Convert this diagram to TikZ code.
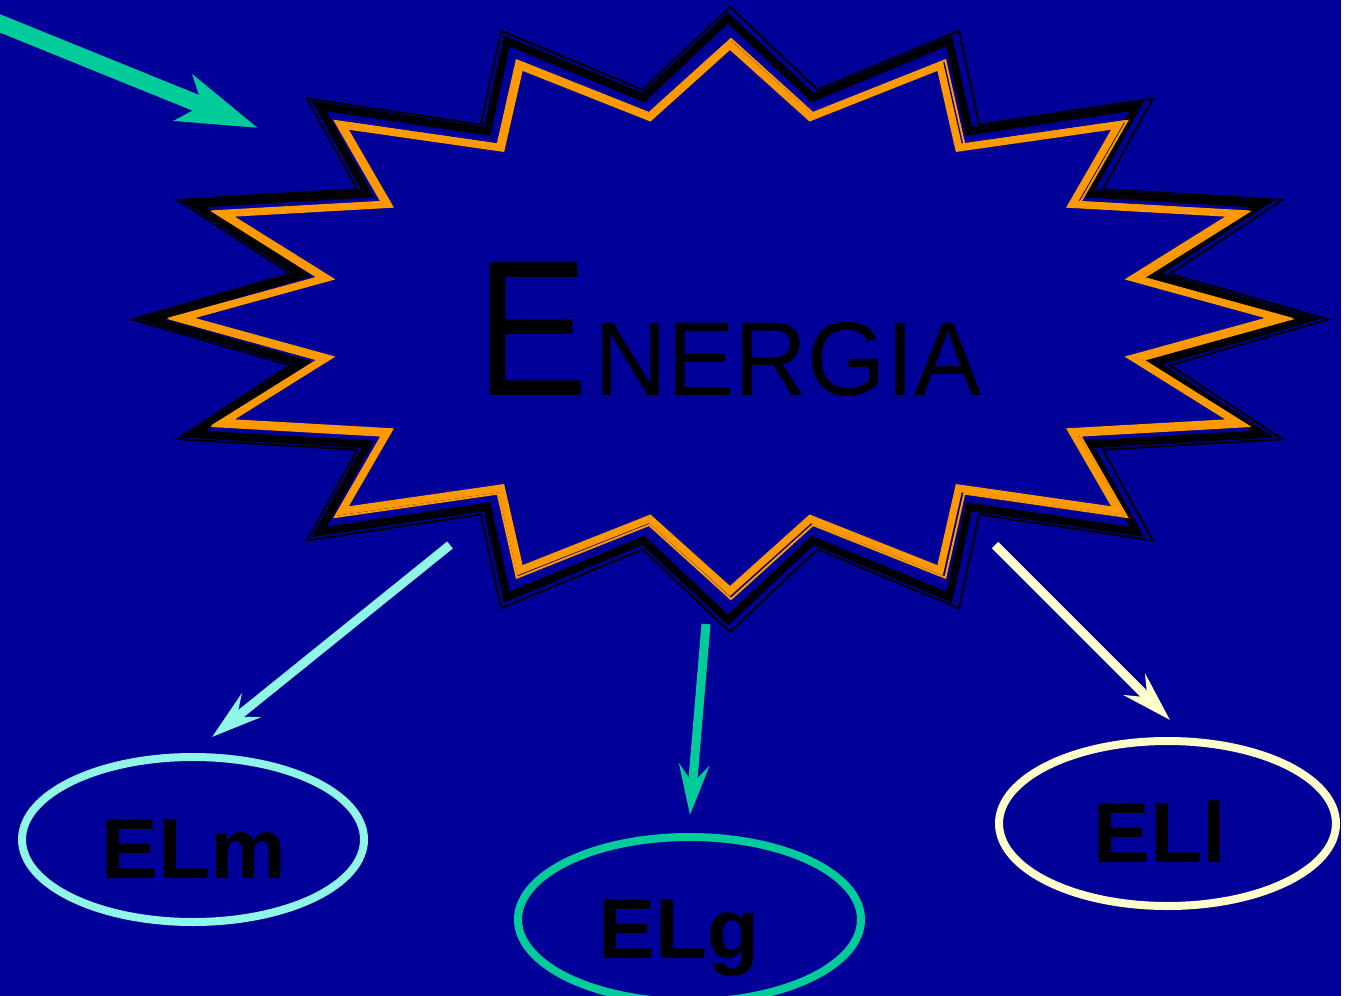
\documentclass[tikz,border=0pt]{standalone}
\usepackage{fontspec}
\setmainfont{Liberation Sans}
\usetikzlibrary{arrows.meta,shapes.geometric}

\definecolor{bgblue}{HTML}{000099}
\definecolor{burst}{HTML}{FF9900}
\definecolor{seagreen}{HTML}{00CC99}
\definecolor{aqua}{HTML}{8FF5E6}
\definecolor{cream}{HTML}{FFFFCC}

% 16-point burst: centre (#1,#2), outer radii #3,#4, inner radii = 0.75 of outer
\newcommand{\burstline}[5]{%
  \draw[#5, line join=miter] plot[samples at={0,...,31}]
    ({#1+#3*(1-0.25*mod(\x,2))*sin(\x*11.25)},
     {#2-#4*(1-0.25*mod(\x,2))*cos(\x*11.25)}) -- cycle;}

\tikzset{
  ring/.style={ellipse, draw, line width=8pt, inner sep=0pt,
               minimum width=342pt, minimum height=165pt},
  tag/.style={font=\bfseries\fontsize{85}{85}\selectfont, text=black,
              anchor=base, inner sep=0pt},
  thinarrow/.style={line width=9pt,
              -{Stealth[length=50pt,width=30pt,inset=18pt]}},
}

\begin{document}
\begin{tikzpicture}[x=1pt,y=-1pt]
  \useasboundingbox (0,0) rectangle (1350,996);
  \fill[white] (0,0) rectangle (1350,996);
  \fill[bgblue] (0,0) rectangle (1341,996);

  % burst outline, outermost layer first
  \burstline{730}{319.5}{598}{312.5}{black, line width=2pt}
  \burstline{728}{319}{578}{301}{black, line width=8pt}
  \burstline{731}{319}{560}{280}{burst, line width=2pt}
  \burstline{730}{318}{549}{273}{burst, line width=7.5pt}

  % title
  \node[anchor=base west, inner sep=0pt, text=black] (title) at (476,395)
    {\fontsize{193}{193}\selectfont\scalebox{0.87}[1]{E}\kern6pt%
     \fontsize{105}{105}\selectfont\scalebox{0.962}[1]{NERGIA}};

  % incoming arrow
  \coordinate (inA) at (-6,21);
  \coordinate (inB) at (258,128);
  \draw[seagreen, line width=17pt,
        -{Stealth[length=79pt,width=48pt,inset=19pt]}] (inA) -- (inB);

  % three forms of energy
  \node[ring, draw=aqua] (elm) at (193,839.5) {};
  \node[ring, draw=seagreen, minimum width=343pt] (elg) at (689.5,919.5) {};
  \node[ring, draw=cream, minimum width=337pt] (ell) at (1167.5,823.5) {};

  \node[tag] (tm) at (194,878) {ELm};
  \node[tag] (tg) at (679,958) {ELg};
  \node[tag] (tl) at (1160,862) {ELl};

  % arrows from the burst to each form
  \coordinate (sm) at (450,545); \coordinate (em) at (212,737);
  \coordinate (sg) at (706,624); \coordinate (eg) at (690,815);
  \coordinate (sl) at (995,545); \coordinate (el) at (1170,720);
  \draw[thinarrow, aqua] (sm) -- (em);
  \draw[thinarrow, seagreen] (sg) -- (eg);
  \draw[thinarrow, cream] (sl) -- (el);
\end{tikzpicture}
\end{document}
